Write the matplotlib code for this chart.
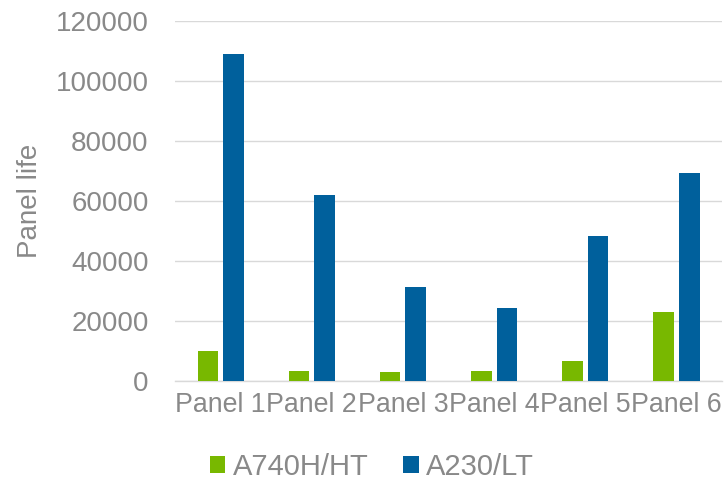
import numpy as np
import matplotlib.pyplot as plt

plt.rcParams['font.family'] = ['Liberation Sans', 'DejaVu Sans']

panels = ['Panel 1', 'Panel 2', 'Panel 3', 'Panel 4', 'Panel 5', 'Panel 6']
life_ht = [10000, 3300, 3100, 3400, 6700, 23000]
life_lt = [109000, 62000, 31300, 24300, 48300, 69300]
series = ['A740H/HT', 'A230/LT']

green = '#78b800'
blue = '#00609c'
grey = '#898989'

fig = plt.figure(figsize=(7.25, 4.84), dpi=100)
ax = fig.add_axes([0.2414, 0.2128, 0.7545, 0.7438])

x = np.arange(len(panels))
w = 0.226
ax.bar(x - 0.14, life_ht, w, color=green, label=series[0], zorder=3)
ax.bar(x + 0.14, life_lt, w, color=blue, label=series[1], zorder=3)

ax.set_xlim(-0.5, len(panels) - 0.5)
ax.set_ylim(0, 120000)
ax.set_yticks(np.arange(0, 120001, 20000))
ax.set_xticks(x)
ax.set_xticklabels(panels)
ax.grid(axis='y', color='#d9d9d9', linewidth=1.0, zorder=0)
for s in ['top', 'right', 'left']:
    ax.spines[s].set_visible(False)
ax.spines['bottom'].set_color('#d9d9d9')
ax.spines['bottom'].set_linewidth(1.0)
ax.tick_params(axis='y', length=0, pad=19, labelsize=20, labelcolor=grey)
ax.tick_params(axis='x', length=0, pad=8, labelsize=19.3, labelcolor=grey)

ax.set_ylabel('Panel life', fontsize=20, color=grey)
ax.yaxis.set_label_coords(-0.241, 0.5)

fig.legend(loc='center', bbox_to_anchor=(0.513, 0.035), ncol=2, frameon=False,
           fontsize=21, labelcolor=grey, handlelength=0.52, handleheight=0.52,
           handletextpad=0.25, columnspacing=1.2)

fig.savefig('out.png', dpi=100)
